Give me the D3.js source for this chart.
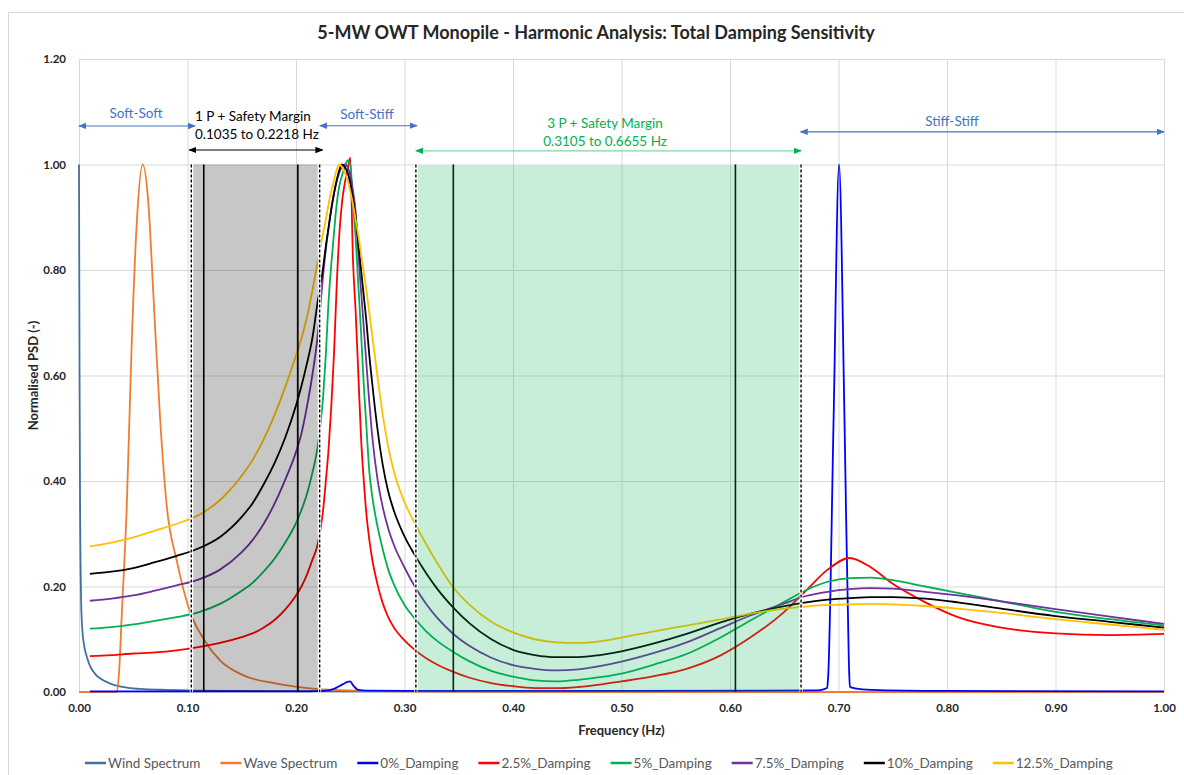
<!DOCTYPE html>
<html>
<head>
<meta charset="utf-8">
<script src="https://cdn.jsdelivr.net/npm/d3@7"></script>
<style>
  body { margin: 0; background: #fff; }
  svg { font-family: Lato, 'Open Sans', sans-serif; }
</style>
</head>
<body>
<svg id="chart"></svg>
<script>
// ---- data ----
const freqWind = [0, 0.0005, 0.001, 0.002, 0.003, 0.005, 0.0075, 0.01, 0.015, 0.02, 0.03, 0.045, 0.06, 0.08, 0.10, 0.15, 0.20, 0.30, 0.50, 1.00];
const windSpectrum = [1.0, 0.6, 0.35, 0.17, 0.12, 0.085, 0.065, 0.05, 0.034, 0.025, 0.015, 0.008, 0.0055, 0.004, 0.003, 0.002, 0.0015, 0.001, 0.0005, 0.0002];

const freqWave = [0, 0.035, 0.037, 0.0395, 0.044, 0.0485, 0.053, 0.0587, 0.064, 0.0685, 0.0747, 0.081, 0.09, 0.102, 0.115, 0.13, 0.151, 0.182, 0.213, 0.25, 0.30, 0.50, 1.00];
const waveSpectrum = [0, 0, 0.04, 0.15, 0.35, 0.655, 0.88, 1.0, 0.925, 0.756, 0.52, 0.35, 0.25, 0.154, 0.10, 0.06, 0.032, 0.016, 0.007, 0.003, 0.001, 0, 0];

const freqZero = [0.01, 0.1, 0.2, 0.225, 0.235, 0.2425, 0.2475, 0.25, 0.2525, 0.2575, 0.265, 0.30, 0.50, 0.68, 0.6875, 0.6895, 0.6905, 0.6955, 0.7005, 0.7055, 0.7095, 0.7105, 0.715, 0.73, 0.80, 1.00];
const damp0 = [0.001, 0.001, 0.001, 0.002, 0.006, 0.014, 0.019, 0.020, 0.013, 0.004, 0.0025, 0.002, 0.002, 0.003, 0.006, 0.008, 0.030, 0.520, 1.000, 0.520, 0.060, 0.010, 0.007, 0.004, 0.002, 0.001];

const freqDamp = [0.01, 0.03, 0.05, 0.07, 0.09, 0.11, 0.13, 0.15, 0.16, 0.17, 0.18, 0.19, 0.20,
  0.205, 0.21, 0.215, 0.22, 0.225, 0.2275, 0.23, 0.2325, 0.235, 0.2375, 0.24, 0.2425, 0.245, 0.2475, 0.25,
  0.2525, 0.255, 0.2575, 0.26, 0.2625, 0.265, 0.2675, 0.27, 0.275, 0.28, 0.285, 0.29, 0.30,
  0.31, 0.32, 0.33, 0.345, 0.36, 0.38, 0.40, 0.42, 0.44, 0.46, 0.48, 0.50,
  0.53, 0.56, 0.59, 0.62, 0.65, 0.67, 0.69, 0.71, 0.73, 0.75, 0.78, 0.81, 0.85, 0.90, 0.95, 1.00];

const damp2_5 = [0.068, 0.070, 0.073, 0.075, 0.079, 0.085, 0.093, 0.104, 0.111, 0.122, 0.136, 0.156, 0.183,
  0.200, 0.222, 0.250, 0.280, 0.345, 0.400, 0.460, 0.540, 0.640, 0.770, 0.870, 0.930, 0.965, 0.990, 1.013,
  0.820, 0.720, 0.600, 0.480, 0.400, 0.335, 0.290, 0.255, 0.205, 0.168, 0.142, 0.123, 0.098,
  0.079, 0.064, 0.052, 0.038, 0.027, 0.017, 0.011, 0.0075, 0.0072, 0.0095, 0.014, 0.020,
  0.030, 0.044, 0.068, 0.105, 0.152, 0.192, 0.232, 0.254, 0.236, 0.205, 0.170, 0.142, 0.122, 0.111, 0.108, 0.110];

const damp5 = [0.120, 0.123, 0.128, 0.135, 0.142, 0.151, 0.167, 0.192, 0.207, 0.228, 0.252, 0.283, 0.320,
  0.345, 0.375, 0.415, 0.465, 0.560, 0.640, 0.740, 0.810, 0.870, 0.925, 0.960, 0.980, 0.995, 1.008, 1.000,
  0.930, 0.860, 0.770, 0.680, 0.580, 0.500, 0.420, 0.375, 0.315, 0.270, 0.232, 0.205, 0.165,
  0.138, 0.115, 0.097, 0.076, 0.058, 0.040, 0.029, 0.022, 0.020, 0.023, 0.028, 0.035,
  0.052, 0.072, 0.102, 0.137, 0.171, 0.193, 0.209, 0.216, 0.217, 0.212, 0.200, 0.188, 0.172, 0.152, 0.138, 0.126];

const damp7_5 = [0.173, 0.177, 0.183, 0.192, 0.202, 0.213, 0.232, 0.265, 0.288, 0.318, 0.356, 0.402, 0.455,
  0.490, 0.540, 0.600, 0.675, 0.790, 0.840, 0.880, 0.915, 0.945, 0.968, 0.985, 0.996, 1.000, 0.995, 0.980,
  0.950, 0.910, 0.830, 0.760, 0.690, 0.620, 0.550, 0.490, 0.405, 0.350, 0.310, 0.280, 0.236,
  0.198, 0.167, 0.141, 0.110, 0.087, 0.065, 0.051, 0.044, 0.041, 0.043, 0.049, 0.0575,
  0.074, 0.094, 0.120, 0.146, 0.168, 0.182, 0.190, 0.195, 0.197, 0.196, 0.190, 0.183, 0.172, 0.157, 0.143, 0.129];

const damp10 = [0.224, 0.228, 0.235, 0.246, 0.258, 0.272, 0.294, 0.332, 0.358, 0.393, 0.433, 0.482, 0.543,
  0.580, 0.622, 0.670, 0.740, 0.805, 0.845, 0.880, 0.915, 0.945, 0.970, 0.990, 1.000, 0.995, 0.985, 0.965,
  0.935, 0.900, 0.850, 0.800, 0.750, 0.700, 0.640, 0.590, 0.500, 0.430, 0.380, 0.345, 0.295,
  0.258, 0.225, 0.196, 0.160, 0.130, 0.100, 0.080, 0.070, 0.066, 0.066, 0.070, 0.077,
  0.092, 0.110, 0.131, 0.149, 0.163, 0.170, 0.175, 0.178, 0.180, 0.180, 0.177, 0.170, 0.158, 0.144, 0.133, 0.122];

const damp12_5 = [0.276, 0.283, 0.293, 0.306, 0.319, 0.335, 0.364, 0.410, 0.440, 0.478, 0.524, 0.578, 0.638,
  0.670, 0.710, 0.760, 0.815, 0.870, 0.895, 0.925, 0.950, 0.970, 0.990, 1.000, 0.995, 0.985, 0.970, 0.950,
  0.925, 0.895, 0.865, 0.830, 0.795, 0.760, 0.720, 0.680, 0.600, 0.525, 0.465, 0.420, 0.360,
  0.318, 0.280, 0.245, 0.198, 0.165, 0.133, 0.113, 0.100, 0.094, 0.093, 0.096, 0.103,
  0.115, 0.126, 0.137, 0.149, 0.158, 0.162, 0.165, 0.166, 0.167, 0.166, 0.163, 0.158, 0.150, 0.138, 0.128, 0.118];

const seriesNames = ['Wind Spectrum', 'Wave Spectrum', '0%_Damping', '2.5%_Damping', '5%_Damping', '7.5%_Damping', '10%_Damping', '12.5%_Damping'];
const seriesColors = ['#41719C', '#ED7D31', '#0000FF', '#FF0000', '#00B050', '#7030A0', '#000000', '#FFC000'];

const xTicks = [0, 0.1, 0.2, 0.3, 0.4, 0.5, 0.6, 0.7, 0.8, 0.9, 1.0];
const yTicks = [0, 0.2, 0.4, 0.6, 0.8, 1.0, 1.2];

// 1P / 3P ranges (rotor 6.9 - 12.1 rpm) and their +/-10% margins
const rotorLines = [0.115, 0.2017, 0.345, 0.605];
const band1P = [0.1035, 0.2218];
const band3P = [0.3105, 0.6655];

// ---- dimensions ----
const W = 1184, H = 775;
const margin = { top: 59, right: 20, bottom: 83, left: 79 };
const w = W - margin.left - margin.right;
const h = H - margin.top - margin.bottom;

const svg = d3.select('#chart')
    .attr('width', W)
    .attr('height', H);

// outer chart border (only left/top visible in the frame)
svg.append('path')
    .attr('d', `M8.5,${H + 5} V12.5 H${W + 5}`)
    .attr('fill', 'none')
    .attr('stroke', '#d9d9d9');

svg.append('text')
    .attr('x', 596)
    .attr('y', 33)
    .attr('dy', '0.35em')
    .attr('text-anchor', 'middle')
    .attr('font-size', 18)
    .attr('font-weight', 'bold')
    .attr('fill', '#262626')
    .text('5-MW OWT Monopile - Harmonic Analysis: Total Damping Sensitivity');

const g = svg.append('g')
    .attr('transform', `translate(${margin.left}, ${margin.top})`);

const xScale = d3.scaleLinear().domain([0, 1]).range([0, w]);
const yScale = d3.scaleLinear().domain([0, 1.2]).range([h, 0]);

// gridlines
const gridY = g.append('g')
    .call(d3.axisLeft(yScale).tickValues(yTicks).tickSize(-w).tickFormat(''));
const gridX = g.append('g')
    .attr('transform', `translate(0, ${h})`)
    .call(d3.axisBottom(xScale).tickValues(xTicks).tickSize(-h).tickFormat(''));
[gridX, gridY].forEach(s => {
    s.select('.domain').remove();
    s.selectAll('line').attr('stroke', '#d9d9d9');
});

// tick labels
const yAxis = g.append('g')
    .call(d3.axisLeft(yScale).tickValues(yTicks).tickSize(0).tickPadding(13).tickFormat(d3.format('.2f')));
const xAxis = g.append('g')
    .attr('transform', `translate(0, ${h})`)
    .call(d3.axisBottom(xScale).tickValues(xTicks).tickSize(0).tickPadding(12).tickFormat(d3.format('.2f')));
[xAxis, yAxis].forEach(s => {
    s.select('.domain').remove();
    s.selectAll('text')
        .attr('font-family', 'Lato, sans-serif')
        .attr('font-size', 11.5)
        .attr('font-weight', 'bold')
        .attr('fill', '#262626');
});

// axis titles
g.append('text')
    .attr('x', w / 2)
    .attr('y', h + 38)
    .attr('dy', '0.35em')
    .attr('text-anchor', 'middle')
    .attr('font-size', 13)
    .attr('font-weight', 'bold')
    .attr('fill', '#262626')
    .text('Frequency (Hz)');

g.append('text')
    .attr('transform', `translate(${33 - margin.left}, ${h / 2}) rotate(-90)`)
    .attr('dy', '0.35em')
    .attr('text-anchor', 'middle')
    .attr('font-size', 13)
    .attr('font-weight', 'bold')
    .attr('fill', '#262626')
    .text('Normalised PSD (-)');

// series lines
const series = [
    { f: freqWind, v: windSpectrum },
    { f: freqWave, v: waveSpectrum },
    { f: freqZero, v: damp0 },
    { f: freqDamp, v: damp2_5 },
    { f: freqDamp, v: damp5 },
    { f: freqDamp, v: damp7_5 },
    { f: freqDamp, v: damp10 },
    { f: freqDamp, v: damp12_5 }
].map((s, i) => ({ ...s, name: seriesNames[i], color: seriesColors[i] }));

const line = d3.line()
    .x(d => xScale(d[0]))
    .y(d => yScale(d[1]))
    .curve(d3.curveMonotoneX);

g.selectAll('.series')
    .data(series)
    .enter()
    .append('path')
    .attr('class', 'series')
    .attr('d', d => line(d3.zip(d.f, d.v)))
    .attr('fill', 'none')
    .attr('stroke', d => d.color)
    .attr('stroke-width', 1.8)
    .attr('stroke-linejoin', 'round');

// 1P / 3P rotor limits
g.selectAll('.rotor')
    .data(rotorLines)
    .enter()
    .append('line')
    .attr('x1', d => xScale(d))
    .attr('x2', d => xScale(d))
    .attr('y1', yScale(1))
    .attr('y2', yScale(0))
    .attr('stroke', '#000')
    .attr('stroke-width', 1.6);

// shaded exclusion zones (translucent, drawn over the curves)
g.append('rect')
    .attr('x', xScale(band1P[0]) + 2)
    .attr('y', yScale(1))
    .attr('width', xScale(band1P[1]) - xScale(band1P[0]) - 4)
    .attr('height', yScale(0) - yScale(1))
    .attr('fill', '#000')
    .attr('fill-opacity', 0.22);

g.append('rect')
    .attr('x', xScale(band3P[0]) + 2)
    .attr('y', yScale(1) + 1)
    .attr('width', xScale(band3P[1]) - xScale(band3P[0]) - 4)
    .attr('height', yScale(0) - yScale(1) - 1)
    .attr('fill', '#00B050')
    .attr('fill-opacity', 0.22);

// dashed margin limits
const edges = band1P.concat(band3P);
g.selectAll('.edge-bg')
    .data(edges)
    .enter()
    .append('line')
    .attr('x1', d => xScale(d))
    .attr('x2', d => xScale(d))
    .attr('y1', yScale(1))
    .attr('y2', yScale(0))
    .attr('stroke', '#fff')
    .attr('stroke-width', 3);
g.selectAll('.edge')
    .data(edges)
    .enter()
    .append('line')
    .attr('x1', d => xScale(d))
    .attr('x2', d => xScale(d))
    .attr('y1', yScale(1))
    .attr('y2', yScale(0))
    .attr('stroke', '#000')
    .attr('stroke-width', 1.4)
    .attr('stroke-dasharray', '3,2');

// arrow markers
const defs = svg.append('defs');
[['blue', '#4472C4'], ['black', '#000'], ['green', '#00B050']].forEach(([id, c]) => {
    defs.append('marker')
        .attr('id', 'arr-' + id)
        .attr('viewBox', '0 0 10 10')
        .attr('refX', 9)
        .attr('refY', 5)
        .attr('markerWidth', 8)
        .attr('markerHeight', 8)
        .attr('markerUnits', 'userSpaceOnUse')
        .attr('orient', 'auto-start-reverse')
        .append('path')
        .attr('d', 'M0,1 L10,5 L0,9 Z')
        .attr('fill', c);
});

// stiffness regions and 1P/3P annotations
const arrows = [
    { f0: 0, f1: 0.107, v: 1.073, color: '#4472C4', m: 'blue' },
    { f0: 0.1015, f1: 0.2245, v: 1.0275, color: '#000', m: 'black' },
    { f0: 0.222, f1: 0.3115, v: 1.0735, color: '#4472C4', m: 'blue' },
    { f0: 0.3105, f1: 0.6655, v: 1.026, color: '#7fd6a0', m: 'green' },
    { f0: 0.665, f1: 1.0, v: 1.062, color: '#4472C4', m: 'blue' }
];
g.selectAll('.arrow')
    .data(arrows)
    .enter()
    .append('line')
    .attr('x1', d => xScale(d.f0))
    .attr('x2', d => xScale(d.f1))
    .attr('y1', d => yScale(d.v))
    .attr('y2', d => yScale(d.v))
    .attr('stroke', d => d.color)
    .attr('stroke-width', 1.2)
    .attr('marker-start', d => `url(#arr-${d.m})`)
    .attr('marker-end', d => `url(#arr-${d.m})`);

const labels = [
    { text: 'Soft-Soft', f: 0.0525, v: 1.0976, anchor: 'middle', color: '#4472C4' },
    { text: '1 P + Safety Margin', f: 0.1069, v: 1.092, anchor: 'start', color: '#000' },
    { text: '0.1035 to 0.2218 Hz', f: 0.1069, v: 1.058, anchor: 'start', color: '#000' },
    { text: 'Soft-Stiff', f: 0.2654, v: 1.0957, anchor: 'middle', color: '#4472C4' },
    { text: '3 P + Safety Margin', f: 0.4848, v: 1.078, anchor: 'middle', color: '#00B050' },
    { text: '0.3105 to 0.6655 Hz', f: 0.4848, v: 1.0432, anchor: 'middle', color: '#00B050' },
    { text: 'Stiff-Stiff', f: 0.8046, v: 1.081, anchor: 'middle', color: '#4472C4' }
];
g.selectAll('.label')
    .data(labels)
    .enter()
    .append('text')
    .attr('x', d => xScale(d.f))
    .attr('y', d => yScale(d.v))
    .attr('dy', '0.35em')
    .attr('text-anchor', d => d.anchor)
    .attr('font-size', 13.5)
    .attr('fill', d => d.color)
    .text(d => d.text);

// legend
const legend = svg.append('g').attr('transform', 'translate(85, 763)');
let lx = 0;
series.forEach(s => {
    const item = legend.append('g').attr('transform', `translate(${lx}, 0)`);
    item.append('line')
        .attr('x1', 0).attr('x2', 21)
        .attr('y1', 0).attr('y2', 0)
        .attr('stroke', s.color)
        .attr('stroke-width', 2.5);
    const t = item.append('text')
        .attr('x', 23)
        .attr('dy', '0.35em')
        .attr('font-size', 13.5)
        .attr('fill', '#595959')
        .text(s.name);
    lx += 23 + t.node().getComputedTextLength() + 20;
});
</script>
</body>
</html>
